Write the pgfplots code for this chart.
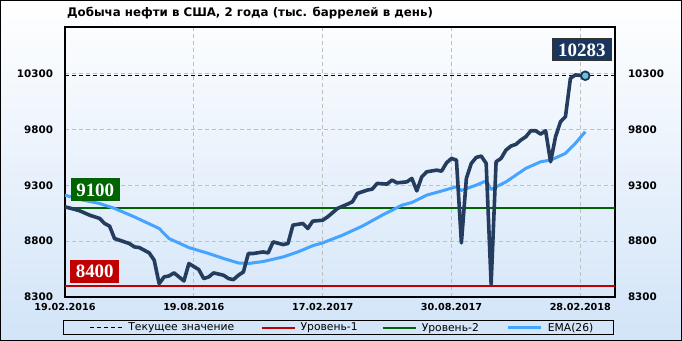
\documentclass[border=0pt]{standalone}
\usepackage{fontspec}
\setmainfont{DejaVu Sans}
\newfontfamily\serifb{Liberation Serif}
\usepackage{pgfplots}
\pgfplotsset{compat=1.18}
\definecolor{navy}{HTML}{243D5F}
\definecolor{ema}{HTML}{44A4FF}
\definecolor{lvlred}{HTML}{C00000}
\definecolor{lvlgreen}{HTML}{006400}
\definecolor{boxnavy}{HTML}{1B365D}
\definecolor{mfill}{HTML}{6EC3DA}
\definecolor{bgblue}{HTML}{D2E4F8}
\pgfplotsset{firstimg/.style={legend image code/.code={\path (-26bp,0bp); \draw[##1] (0bp,0bp) -- (33bp,0bp);}}}
\begin{document}
\begin{tikzpicture}
\useasboundingbox (0bp,0bp) rectangle (682bp,341bp);
\shade[top color=white, middle color=white, bottom color=bgblue] (0bp,0bp) rectangle (682bp,341bp);
\draw[black, line width=1bp] (0.5bp,0.5bp) rectangle (681.5bp,340.5bp);
\node[anchor=base west, font=\bfseries\fontsize{11.85}{12}\selectfont, inner sep=0pt] at (67bp,324bp) {Добыча нефти  в США, 2 года (тыс. баррелей в день)};
\begin{axis}[
 at={(65bp,44bp)}, anchor=south west, scale only axis, width=550bp, height=270bp,
 xmin=0, xmax=111, ymin=8300, ymax=10720,
 xtick={0,26,52,78,104},
 xticklabels={19.02.2016,19.08.2016,17.02.2017,30.08.2017,28.02.2018},
 ytick={8300,8800,9300,9800,10300},
 scaled y ticks=false,
 yticklabel pos=left,
 major tick length=0pt,
 grid=major, major grid style={dash pattern=on 4bp off 3bp, color=black!25, line width=0.8bp},
 axis line style={line width=1.2bp},
 yticklabel style={font=\bfseries\fontsize{10.4}{12}\selectfont, xshift=-8.5bp},
 xticklabel style={font=\bfseries\fontsize{9.7}{12}\selectfont, yshift=-2.5bp},
 /pgf/number format/1000 sep={},
 /pgf/number format/assume math mode=true,
 legend columns=4,
 legend style={at={(-0.0036,-0.087)}, anchor=north west, draw=black, line width=1bp, fill=none,
   font=\fontsize{10.8}{12}\selectfont, inner xsep=0pt, inner ysep=1bp,
   nodes={inner xsep=0pt, inner ysep=1bp},
   /tikz/every odd column/.style={column sep=5bp},
   /tikz/every even column/.style={column sep=0pt}},
 legend image code/.code={\draw[#1] (0bp,0bp) -- (33bp,0bp);},
]
\addplot[black, line width=0.9bp, dash pattern=on 4bp off 3bp, firstimg]
  coordinates {(0,10283) (111,10283)};
\addlegendentry{\makebox[132bp][l]{Текущее значение}}
\addplot[lvlred, line width=2.2bp] coordinates {(0,8400) (111,8400)};
\addlegendentry{\makebox[81bp][l]{Уровень-1}}
\addplot[lvlgreen, line width=2.2bp] coordinates {(0,9100) (111,9100)};
\addlegendentry{\makebox[85bp][l]{Уровень-2}}
\addplot[ema, line width=3bp, line join=round] coordinates {
(0,9213) (3,9174) (7,9138) (10,9094) (14,9018) (19,8914) (21,8824) (25,8743)
(29,8690) (32,8645) (35,8605) (37,8600) (40,8618) (44,8659) (47,8704) (50,8760)
(52,8785) (56,8854) (60,8935) (64,9033) (68,9123) (70,9147) (73,9213) (76,9250)
(79,9288) (80,9255) (83,9303) (85,9341) (86,9264) (89,9332) (93,9453) (96,9512)
(98,9527) (101,9587) (103,9677) (105,9781)
};
\addlegendentry{\makebox[66bp][l]{EMA(26)}}
\addplot[navy, line width=3.6bp, line join=round, forget plot] coordinates {
(0,9108) (2,9085) (3,9072) (5,9033) (7,9004) (8,8959) (9,8935) (10,8824)
(12,8794) (13,8779) (14,8749) (15,8743) (17,8695) (18,8630) (19,8420) (20,8480)
(21,8489) (22,8516) (23,8480) (24,8444) (25,8600) (27,8546) (28,8465) (29,8480)
(30,8516) (32,8495) (33,8465) (34,8456) (35,8495) (36,8524) (37,8690) (38,8690)
(40,8704) (41,8695) (42,8794) (44,8770) (45,8779) (46,8944) (48,8959) (49,8914)
(50,8980) (52,8988) (53,9018) (55,9094) (57,9132) (58,9153) (59,9228) (61,9258)
(62,9267) (63,9318) (65,9312) (66,9348) (67,9323) (69,9332) (70,9363) (71,9251)
(72,9377) (73,9422) (75,9437) (76,9428) (77,9503) (78,9542) (79,9527) (80,8785)
(81,9363) (82,9498) (83,9551) (84,9563) (85,9498) (86,8414) (87,9512) (88,9542)
(89,9617) (90,9653) (91,9668) (92,9707) (93,9736) (94,9790) (95,9790) (96,9760)
(97,9790) (98,9512) (99,9736) (100,9871) (101,9916) (102,10260) (103,10290) (105,10283)
};
\addplot[only marks, mark=*, mark size=4.3bp, mark options={fill=mfill, draw=boxnavy, line width=1.8bp}, forget plot]
  coordinates {(105,10283)};
\node[fill=lvlgreen, text=white, font=\serifb\bfseries\fontsize{19}{19}\selectfont, inner xsep=5.5bp, inner ysep=5bp, text height=13bp, text depth=0bp] at (axis cs:6.1,9263) {9100};
\node[fill=lvlred, text=white, font=\serifb\bfseries\fontsize{19}{19}\selectfont, inner xsep=5.5bp, inner ysep=5bp, text height=13bp, text depth=0bp] at (axis cs:6.0,8531) {8400};
\node[fill=boxnavy, draw=black!80, line width=0.6bp, text=white, font=\serifb\bfseries\fontsize{19}{19}\selectfont, inner xsep=5.5bp, inner ysep=4.5bp, text height=13bp, text depth=0bp] at (axis cs:104.3,10518) {10283};
\end{axis}
\begin{axis}[
 at={(65bp,44bp)}, anchor=south west, scale only axis, width=550bp, height=270bp,
 xmin=0, xmax=111, ymin=8300, ymax=10720,
 hide x axis, axis y line*=right, y axis line style={draw=none},
 ytick={8300,8800,9300,9800,10300}, major tick length=0pt,
 scaled y ticks=false,
 yticklabel style={font=\bfseries\fontsize{10.4}{12}\selectfont, xshift=9.5bp},
 /pgf/number format/1000 sep={},
 /pgf/number format/assume math mode=true,
]
\addplot[draw=none] coordinates {(0,8300)};
\end{axis}
\end{tikzpicture}
\end{document}
